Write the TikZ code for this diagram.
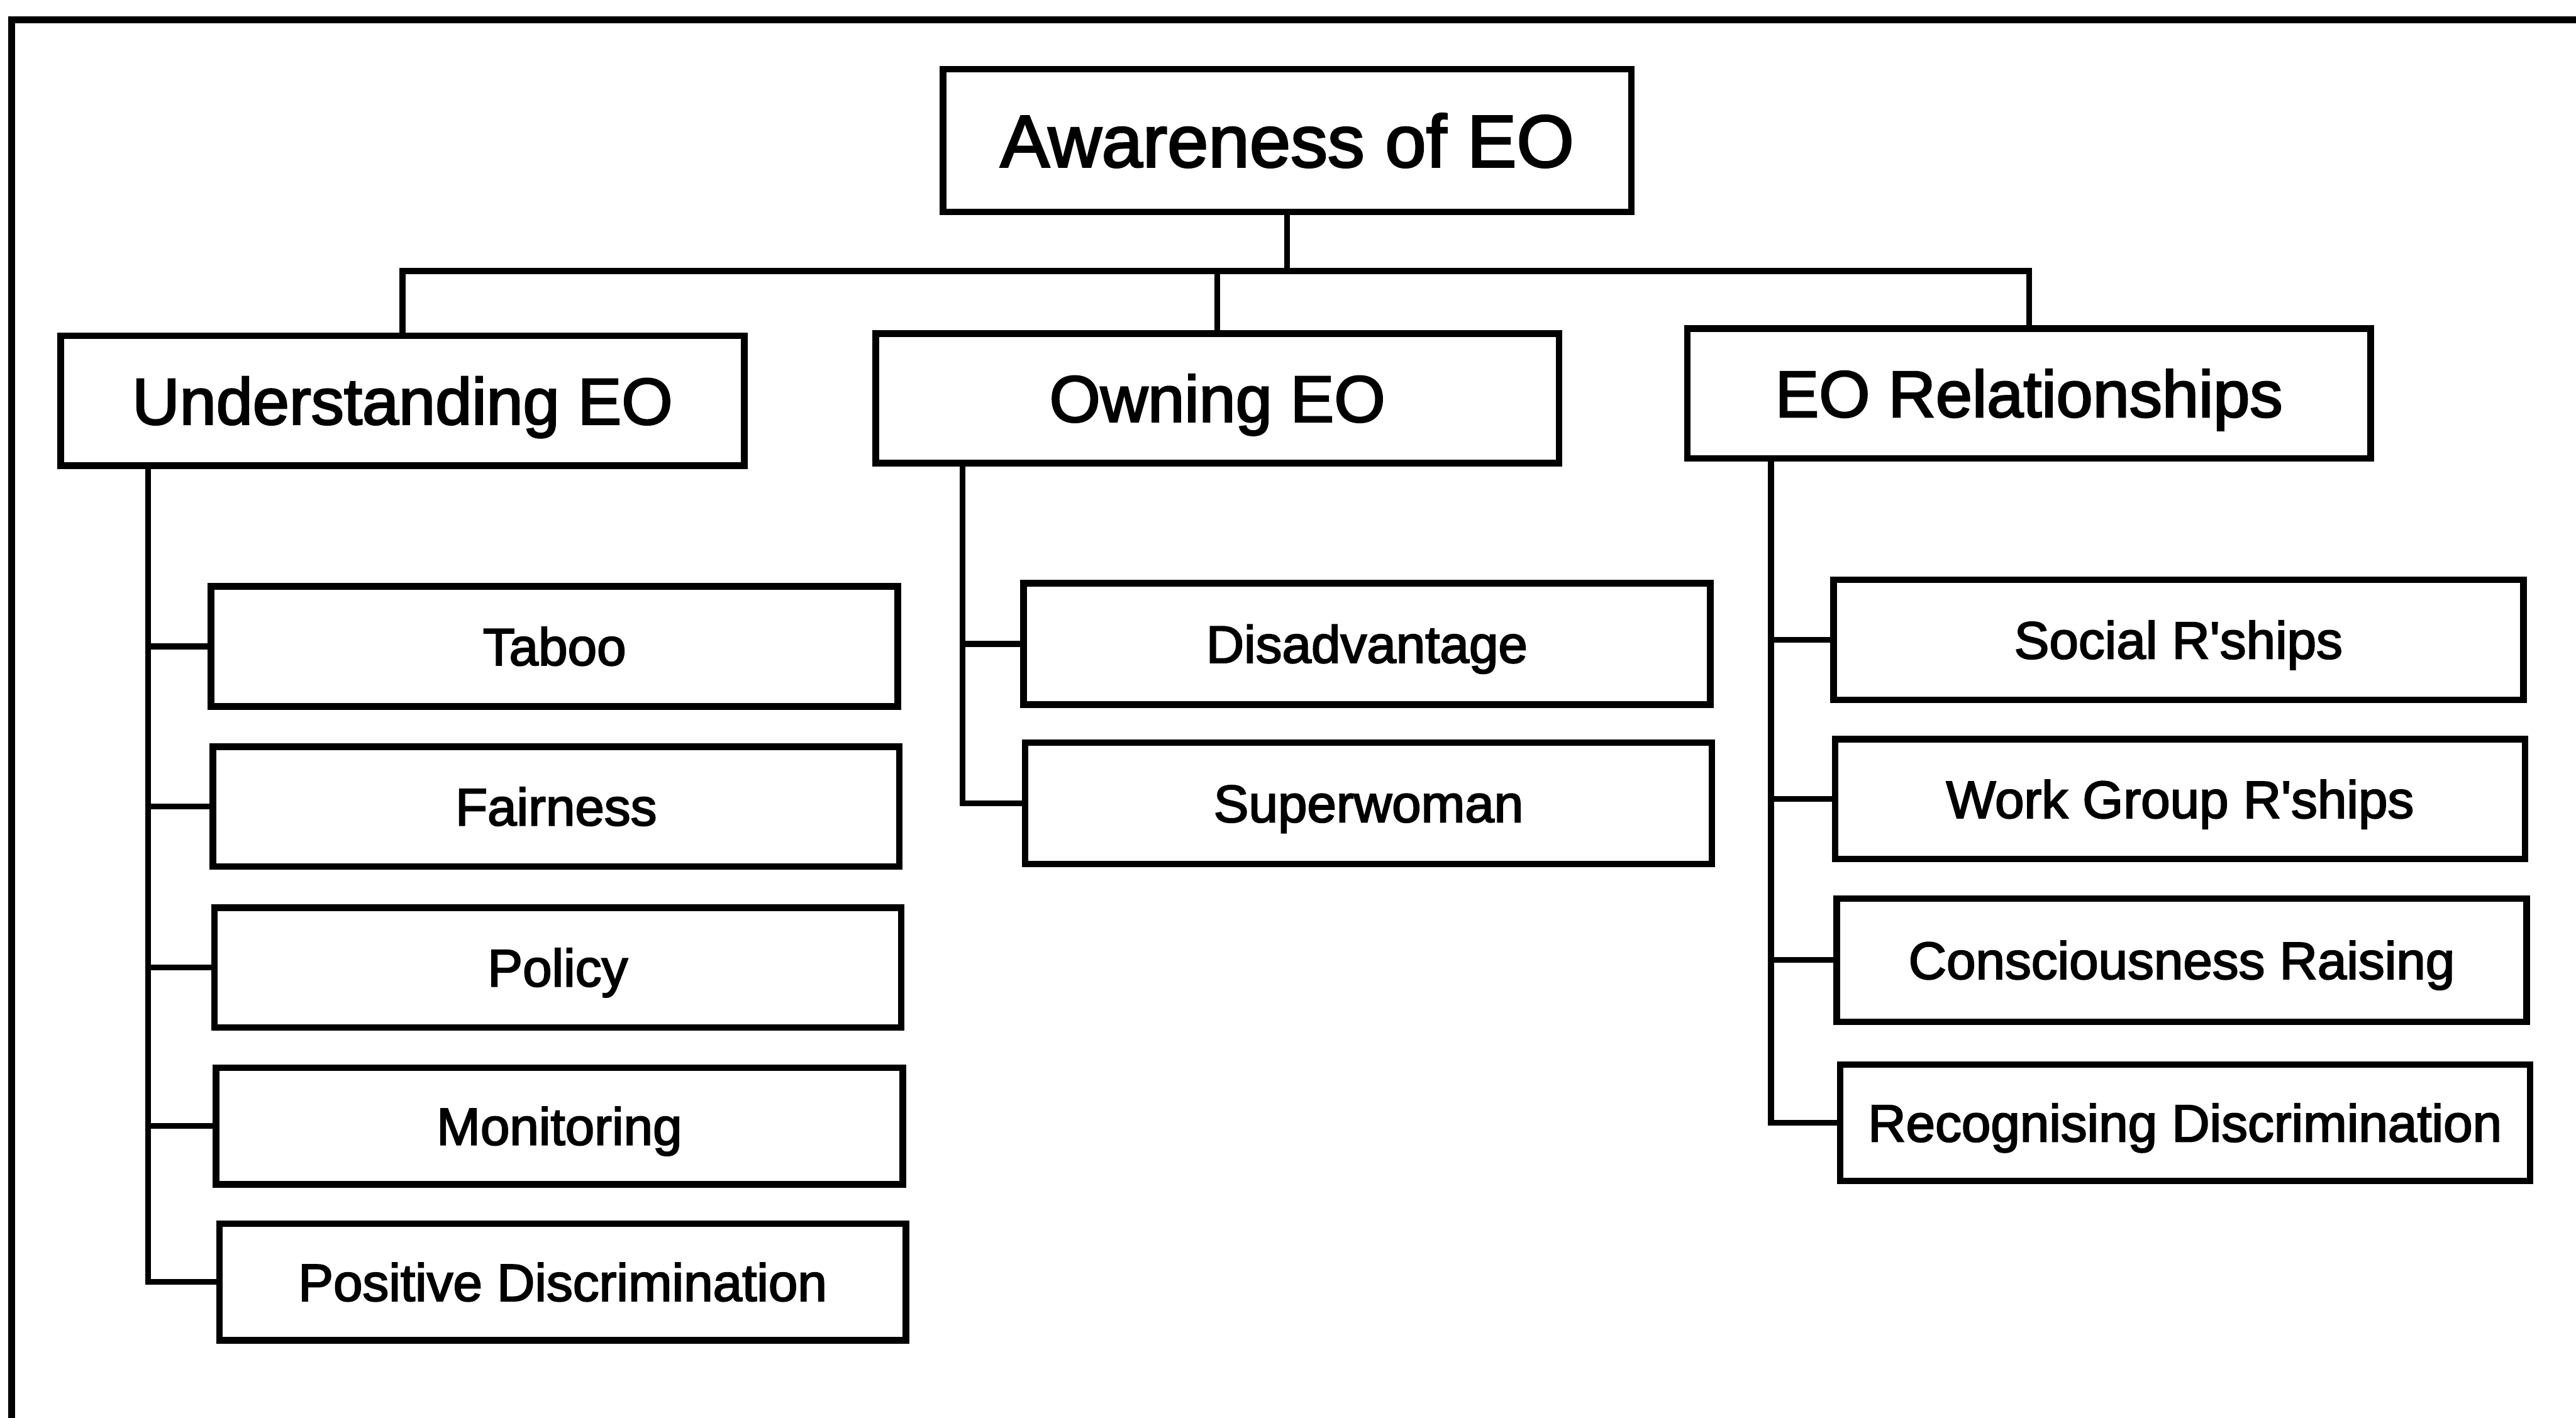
\documentclass[tikz,border=0pt]{standalone}
\usepackage{fontspec}
\setmainfont{Liberation Sans}[FakeBold=2.5]
\begin{document}
\begin{tikzpicture}[x=1pt,y=-1pt,
  box/.style={draw=black, line width=4pt, fill=white, inner sep=0pt,
    text depth=0pt, align=center},
  rootbox/.style={box, minimum width=419pt, minimum height=87pt,
    text height=32.2pt, font=\fontsize{45}{54}\selectfont},
  topicbox/.style={box, minimum width=416pt, minimum height=79pt,
    text height=28.6pt, font=\fontsize{40}{48}\selectfont},
  leafbox/.style={box, minimum width=418pt, minimum height=73pt,
    text height=22.9pt, font=\fontsize{32}{38}\selectfont},
  link/.style={line width=3.5pt, line cap=rect},
  frame/.style={line width=4pt}]

\useasboundingbox (0,0) rectangle (1568,863);

% outer frame (top and left edges)
\draw[frame] (7,880) -- (7,12) -- (1580,12);

% root and first level
\node[rootbox] (root) at (783.5,85.5) {Awareness of EO};
\node[topicbox] (U) at (245,244) {Understanding EO};
\node[topicbox] (O) at (741,242.5) {Owning EO};
\node[topicbox] (R) at (1235,239.5) {EO Relationships};

% leaves under Understanding EO
\node[leafbox] (taboo) at (337.5,393.5) {Taboo};
\node[leafbox] (fair)  at (338.5,491) {Fairness};
\node[leafbox] (pol)   at (339.5,589) {Policy};
\node[leafbox, minimum height=71pt] (mon) at (340.5,685.5) {Monitoring};
\node[leafbox, minimum height=71pt] (pos) at (342.5,780.5) {Positive Discrimination};

% leaves under Owning EO
\node[leafbox, minimum height=74pt] (dis) at (832,392) {Disadvantage};
\node[leafbox, minimum height=74pt] (sup) at (833,489) {Superwoman};

% leaves under EO Relationships
\node[leafbox, minimum width=420pt] (soc)  at (1326,389.5) {Social R\textquotesingle ships};
\node[leafbox, minimum width=420pt] (work) at (1327,486.5) {Work Group R\textquotesingle ships};
\node[leafbox, minimum width=420pt, minimum height=75pt] (cons) at (1328,584.5) {Consciousness Raising};
\node[leafbox, minimum width=420pt, minimum height=71pt] (rec)  at (1330,683.5) {Recognising Discrimination};

% bus from the root to the three topics
\coordinate (bus) at (783.5,165);
\draw[link] (root.south) -- (root.south |- bus);
\draw[link] (U.north) -- (U.north |- bus) -- (R.north |- bus) -- (R.north);
\draw[link] (O.north) -- (O.north |- bus);

% trunks down the left side of each topic
\coordinate (tU) at ([xshift=55pt]U.south west);
\coordinate (tO) at ([xshift=55pt]O.south west);
\coordinate (tR) at ([xshift=53pt]R.south west);

\foreach \leaf in {taboo,fair,pol,mon,pos}
  \draw[link] (tU) |- (\leaf.west);
\foreach \leaf in {dis,sup}
  \draw[link] (tO) |- (\leaf.west);
\foreach \leaf in {soc,work,cons,rec}
  \draw[link] (tR) |- (\leaf.west);

\end{tikzpicture}
\end{document}
